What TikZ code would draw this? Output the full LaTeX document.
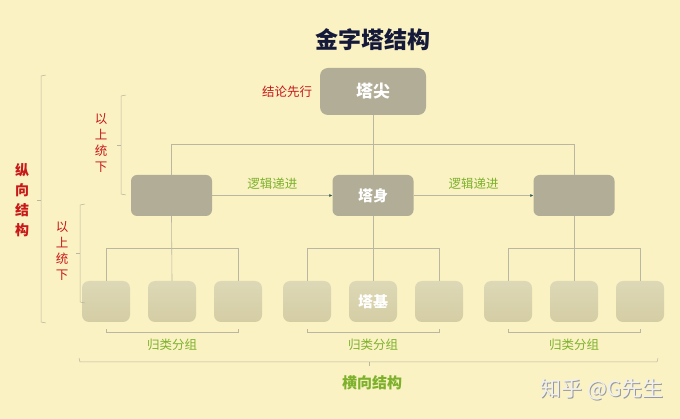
\documentclass[tikz,border=0pt]{standalone}
\usepackage{fontspec}
\setmainfont{Noto Sans CJK SC}
\usetikzlibrary{arrows.meta, positioning, calc}

\definecolor{bgyellow}{HTML}{FAF2C3}
\definecolor{boxdark}{HTML}{B1AD96}
\definecolor{boxlighttop}{HTML}{DDD8B6}
\definecolor{boxlightbot}{HTML}{D4CDA4}
\definecolor{linegray}{HTML}{B9B6A2}
\definecolor{labelred}{HTML}{C8181A}
\definecolor{labelgreen}{HTML}{7DB12C}
\definecolor{titlenavy}{HTML}{161A3A}
\definecolor{tipteal}{HTML}{2E5A52}

\tikzset{
  topbox/.style={fill=boxdark, rounded corners=8pt, minimum width=106pt, minimum height=47pt,
    text=white, font=\fontsize{17}{17}\selectfont\bfseries},
  midbox/.style={fill=boxdark, rounded corners=6pt, minimum width=81pt, minimum height=41pt,
    text=white, font=\fontsize{15}{15}\selectfont\bfseries},
  basebox/.style={top color=boxlighttop, bottom color=boxlightbot, rounded corners=7pt,
    minimum width=48pt, minimum height=41pt, text=white, font=\fontsize{15}{15}\selectfont\bfseries},
  link/.style={draw=linegray, line width=0.6pt},
  brace/.style={draw=linegray, line width=0.5pt},
  redlbl/.style={text=labelred, font=\fontsize{12.5}{12.5}\selectfont},
  greenlbl/.style={text=labelgreen, font=\fontsize{12.5}{12.5}\selectfont},
}

\begin{document}
\begin{tikzpicture}[x=1pt, y=-1pt]
\fill[bgyellow] (0,0) rectangle (680,419);
\useasboundingbox (0,0) rectangle (680,419);

\node[text=titlenavy, font=\fontsize{23}{23}\selectfont\bfseries] (title) at (373,40) {金字塔结构};

% top, body, base
\node[topbox] (tip) at (373,91.5) {塔尖};
\node[midbox] (bodyL) at (171.5,195.5) {};
\node[midbox] (body) at (373,195.5) {塔身};
\node[midbox] (bodyR) at (574,195.5) {};

\foreach \n/\x in {aL/106, bL/172, cL/238, aM/307, bM/373, cM/439, aR/508, bR/574, cR/640}
  \node[basebox] (\n) at (\x,301.5) {};
\node[text=white, font=\fontsize{15}{15}\selectfont\bfseries] (basetxt) at (bM) {塔基};

% connectors
\coordinate (fork) at (tip.south |- 0,145);
\draw[link] (tip.south) -- (fork);
\draw[link] (bodyL.north) -- ++(0,-30.5) -| (bodyR.north);
\draw[link] (fork) -- (body.north);
\foreach \p/\a/\b/\c in {bodyL/aL/bL/cL, body/aM/bM/cM, bodyR/aR/bR/cR}{
  \draw[link] (\p.south) -- (\b.north);
  \draw[link] (\a.north) -- ++(0,-32) -| (\c.north);
}
\draw[link, -{Latex[length=3pt,width=3pt,fill=tipteal,color=tipteal]}] (bodyL.east) -- (body.west)
  node[midway, above=2pt, greenlbl] (step1) {逻辑递进};
\draw[link, -{Latex[length=3pt,width=3pt,fill=tipteal,color=tipteal]}] (body.east) -- (bodyR.west)
  node[midway, above=2pt, greenlbl] (step2) {逻辑递进};

\node[redlbl] (first) at (287,92) {结论先行};

% horizontal braces
\foreach \a/\c/\g in {aL/cL/gL, aM/cM/gM, aR/cR/gR}{
  \draw[brace] ($(\a.south)+(0,7)$) -- ++(0,3) -- ($(\c.south)+(0,10)$) -- ++(0,-3);
  \node[greenlbl] (\g) at ($(\a.south)!0.5!(\c.south)+(0,23)$) {归类分组};
}
\draw[brace] (79,358) -- (80,362) -- (657,362) -- (658,358);
\draw[brace] (369,362) -- (369,366);
\node[text=labelgreen, font=\fontsize{15}{15}\selectfont\bfseries] (horiz) at (372,383) {横向结构};

% vertical braces
\draw[brace] (46,75) -- (41,76) -- (41,322) -- (46,323);
\draw[brace] (41,200) -- (37,200);
\draw[brace] (126,95) -- (121,96) -- (121,194) -- (126,195);
\draw[brace] (121,145) -- (117,145);
\draw[brace] (85,204) -- (80,205) -- (80,302) -- (85,303);
\draw[brace] (80,253) -- (76,253);

\node[text=labelred, font=\fontsize{14}{20}\selectfont\bfseries, align=center] (vert) at (22,200) {纵\\向\\结\\构};
\node[text=labelred, font=\fontsize{12.5}{16}\selectfont, align=center] (topdown1) at (101,143) {以\\上\\统\\下};
\node[text=labelred, font=\fontsize{12.5}{16}\selectfont, align=center] (topdown2) at (62,251) {以\\上\\统\\下};

% watermark
\node[text=gray!80, font=\fontsize{21}{21}\selectfont] (markshadow) at (603,390) {知乎 @G先生};
\node[text=gray!12, font=\fontsize{21}{21}\selectfont] (mark) at (602,389) {知乎 @G先生};
\end{tikzpicture}
\end{document}
